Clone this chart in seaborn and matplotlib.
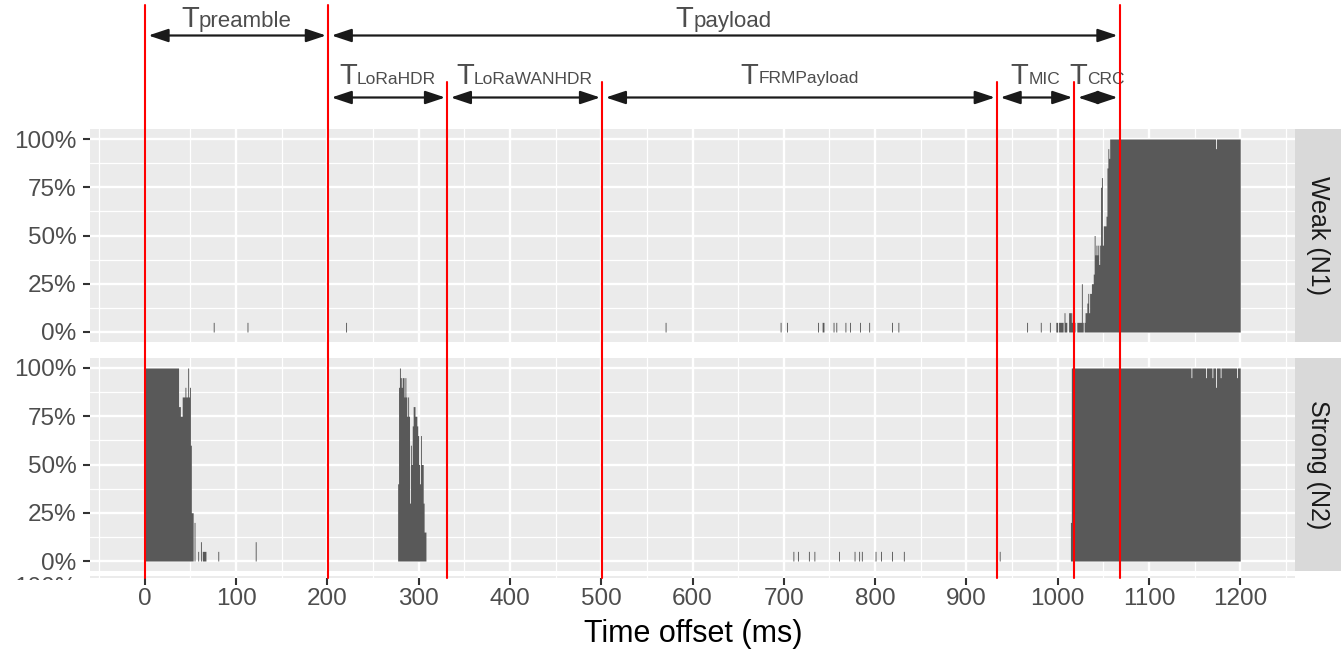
import numpy as np
import pandas as pd
import matplotlib
matplotlib.use("Agg")
import matplotlib.pyplot as plt
import seaborn as sns
from matplotlib.lines import Line2D
from matplotlib.patches import FancyArrowPatch
from matplotlib.transforms import blended_transform_factory, Bbox, TransformedBbox

# ---------------------------------------------------------------- data
# Share of corrupted frames per 1 ms time-offset bin (percent)
BIN_EDGES_MS = (0, 1200)

# Weak interferer (N1)
weak_hit_ms = [75, 112, 220, 570, 696, 703, 737, 742, 743, 754, 757, 767, 772,
               783, 793, 818, 825, 966, 981, 991, 998, 999, 1001, 1002, 1003,
               1004, 1005, 1007, 1008, 1009, 1012, 1013, 1014, 1015, 1016, 1017,
               1018, 1021, 1022, 1023, 1024, 1025, 1026, 1027, 1029, 1030, 1031,
               1032, 1033, 1034, 1035, 1036, 1037, 1038, 1039, 1040, 1041, 1042,
               1043, 1044, 1045, 1046, 1047, 1048, 1049, 1050, 1051, 1052, 1053,
               1054, 1055, 1056, 1173]
weak_hit_pct = [5, 5, 5, 5, 5, 5, 5, 5, 5, 5, 5, 5, 5,
                5, 5, 5, 5, 5, 5, 5, 5, 5, 5, 5, 5,
                5, 5, 10, 5, 5, 10, 10, 10, 5, 10, 5,
                5, 5, 5, 5, 5, 5, 25, 5, 5, 10, 10,
                15, 20, 10, 20, 20, 25, 25, 30, 50, 40, 45,
                40, 45, 35, 45, 75, 80, 45, 55, 55, 55, 60,
                85, 95, 90, 95]
# (first ms, last ms, percent) stretches of constant share
weak_runs = [(1057, 1199, 100)]

# Strong interferer (N2)
strong_hit_ms = [37, 38, 39, 40, 41, 42, 43, 44, 45, 46, 47, 48, 49, 50, 51, 52,
                 54, 58, 61, 63, 64, 65, 66, 80, 121,
                 277, 278, 279, 280, 281, 282, 283, 284, 285, 286, 287, 288, 289,
                 290, 291, 292, 293, 294, 295, 296, 297, 298, 299, 300, 301, 302,
                 303, 304, 305, 306, 307,
                 710, 715, 727, 733, 760, 777, 782, 785, 800, 806, 818, 831, 936,
                 1014, 1146, 1162, 1169, 1173, 1178, 1196]
strong_hit_pct = [80, 80, 75, 75, 85, 85, 85, 90, 85, 85, 100, 85, 90, 60, 25, 25,
                  20, 5, 10, 5, 5, 5, 5, 5, 10,
                  40, 90, 100, 95, 90, 95, 95, 85, 95, 85, 75, 85, 75,
                  30, 60, 50, 70, 80, 80, 75, 75, 70, 65, 50, 40, 65,
                  50, 50, 30, 15, 15,
                  5, 5, 5, 5, 5, 5, 5, 5, 5, 5, 5, 5, 5,
                  20, 95, 95, 95, 90, 95, 95]
strong_runs = [(0, 36, 100), (1015, 1199, 100)]

facet_names = ["Weak (N1)", "Strong (N2)"]

# Frame structure boundaries (ms)
t_preamble_end = 200.7
t_lorahdr_end = 331.2
t_lorawanhdr_end = 501.0
t_frmpayload_end = 933.4
t_mic_end = 1018.3
t_crc_end = 1067.8

top_spans = [("preamble", 0.0, t_preamble_end),
             ("payload", t_preamble_end, t_crc_end)]
field_spans = [("LoRaHDR", t_preamble_end, t_lorahdr_end),
               ("LoRaWANHDR", t_lorahdr_end, t_lorawanhdr_end),
               ("FRMPayload", t_lorawanhdr_end, t_frmpayload_end),
               ("MIC", t_frmpayload_end, t_mic_end),
               ("CRC", t_mic_end, t_crc_end)]
major_marks = [0.0, t_preamble_end, t_crc_end]
field_marks = [t_lorahdr_end, t_lorawanhdr_end, t_frmpayload_end, t_mic_end]


def share_frame(hit_ms, hit_pct, runs):
    bins = np.arange(*BIN_EDGES_MS)
    pct = pd.Series(0.0, index=bins)
    for first, last, value in runs:
        pct.loc[first:last] = value
    pct.loc[hit_ms] = hit_pct
    return pd.DataFrame({"t": bins, "share": pct.values / 100.0})


frames = [share_frame(weak_hit_ms, weak_hit_pct, weak_runs),
          share_frame(strong_hit_ms, strong_hit_pct, strong_runs)]

# ---------------------------------------------------------------- style
sns.set_theme(style="darkgrid")
plt.rcParams["font.family"] = ["Liberation Sans", "DejaVu Sans"]

PANEL_BG = "#EBEBEB"
STRIP_BG = "#D9D9D9"
BAR = "#595959"
TICK_TXT = "#4D4D4D"
TICK_MARK = "#333333"
TICK_SIZE = 17.5

W, H = 1341, 655
fig = plt.figure(figsize=(W / 100, H / 100), dpi=100)
fig.patch.set_facecolor("white")


def px_axes(x0, y0, x1, y1):
    return fig.add_axes([x0 / W, 1 - y1 / H, (x1 - x0) / W, (y1 - y0) / H])


def grid_x(ax):
    ax.set_xlim(-60, 1260)
    ax.set_xticks(np.arange(0, 1201, 100))
    ax.set_xticks(np.arange(-50, 1251, 100), minor=True)
    ax.grid(which="major", axis="x", color="white", lw=1.7)
    ax.grid(which="minor", axis="x", color="white", lw=0.9)


def style_panel(ax):
    ax.set_facecolor(PANEL_BG)
    for s in ax.spines.values():
        s.set_visible(False)
    grid_x(ax)
    ax.set_ylim(-0.05, 1.05)
    ax.set_yticks([0, 0.25, 0.5, 0.75, 1.0])
    ax.set_yticklabels(["0%", "25%", "50%", "75%", "100%"])
    ax.set_yticks([0.125, 0.375, 0.625, 0.875], minor=True)
    ax.grid(which="major", axis="y", color="white", lw=1.7)
    ax.grid(which="minor", axis="y", color="white", lw=0.9)
    ax.set_axisbelow(True)
    ax.tick_params(axis="y", which="major", left=True, length=5, width=1.5,
                   color=TICK_MARK, labelsize=TICK_SIZE, labelcolor=TICK_TXT,
                   pad=4.6)
    ax.tick_params(axis="y", which="minor", left=False, length=0)
    ax.tick_params(axis="x", which="both", bottom=False, length=0,
                   labelbottom=False)
    ax.set_xlabel("")
    ax.set_ylabel("")


panel_px = [(129.35, 341.65), (358.35, 570.65)]
panels = []
for (y0, y1), df, name in zip(panel_px, frames, facet_names):
    ax = px_axes(90, y0, 1295, y1)
    sns.histplot(data=df, x="t", weights="share", binwidth=1,
                 binrange=BIN_EDGES_MS, element="step", fill=True,
                 color=BAR, alpha=1.0, linewidth=0, ax=ax)
    style_panel(ax)
    panels.append(ax)

    strip = px_axes(1295, y0, 1341, y1)
    strip.set_facecolor(STRIP_BG)
    strip.grid(False)
    strip.set_xticks([])
    strip.set_yticks([])
    for s in strip.spines.values():
        s.set_visible(False)
    strip.text(0.5, 0.5, name, rotation=270, ha="center", va="center",
               fontsize=18, color="#1A1A1A", transform=strip.transAxes)

# narrow bottom facet carrying the shared time axis
tail = px_axes(90, 575.5, 1295, 578)
tail.set_facecolor(PANEL_BG)
for s in tail.spines.values():
    s.set_visible(False)
grid_x(tail)
tail.set_yticks([])
tail.set_axisbelow(True)
tail.tick_params(axis="x", which="major", bottom=True, length=5, width=1.5,
                 color=TICK_MARK, labelsize=TICK_SIZE, labelcolor=TICK_TXT,
                 pad=2.2, labelbottom=True)
tail.tick_params(axis="x", which="minor", bottom=False, length=0)
tail_lbl = fig.text(76 / W, 1 - 594 / H, "100%", ha="right", va="baseline",
                    fontsize=TICK_SIZE, color=TICK_TXT)
tail_lbl.set_clip_box(TransformedBbox(
    Bbox.from_extents(0, 1 - 579.5 / H, 90 / W, 1 - 575.5 / H), fig.transFigure))
tail_lbl.set_clip_on(True)

fig.text(693 / W, 1 - 634 / H, "Time offset (ms)", ha="center", va="center",
         fontsize=22, color="black")

# ---------------------------------------------------------------- frame structure
blend = blended_transform_factory(panels[0].transData, fig.transFigure)


def fy(py):
    return 1 - py / H


for t in major_marks:
    fig.add_artist(Line2D([t, t], [fy(5), fy(578)], transform=blend,
                          color="#FF0000", lw=1.5, zorder=5))
for t in field_marks:
    fig.add_artist(Line2D([t, t], [fy(82), fy(578)], transform=blend,
                          color="#FF0000", lw=1.5, zorder=5))

ARROW = "#1A1A1A"


def span_arrow(t0, t1, py):
    arr = FancyArrowPatch(posA=(t0, fy(py)), posB=(t1, fy(py)), transform=blend,
                          arrowstyle="<|-|>,head_length=1.2,head_width=0.4",
                          mutation_scale=10, shrinkA=2.6, shrinkB=1.4,
                          color=ARROW, lw=1.6, zorder=4)
    fig.add_artist(arr)


renderer = fig.canvas.get_renderer()


def span_label(sub, t0, t1, baseline_py, sub_size):
    tT = fig.text(0, 0, "T", fontsize=21, color=TICK_TXT, ha="left",
                  va="baseline")
    tS = fig.text(0, 0, sub, fontsize=sub_size, color=TICK_TXT, ha="left",
                  va="baseline")
    wT = tT.get_window_extent(renderer).width
    wS = tS.get_window_extent(renderer).width
    mid_px = blend.transform(((t0 + t1) / 2, 0))[0]
    left = mid_px - (wT + wS) / 2
    tT.set_position((left / W, fy(baseline_py)))
    tS.set_position(((left + wT) / W, fy(baseline_py)))


for sub, t0, t1 in top_spans:
    span_arrow(t0, t1, 35.5)
    span_label(sub, t0, t1, 27, 16)
for sub, t0, t1 in field_spans:
    span_arrow(t0, t1, 97.5)
    span_label(sub, t0, t1, 83.5, 12.5)

fig.savefig("out.png", dpi=100)
